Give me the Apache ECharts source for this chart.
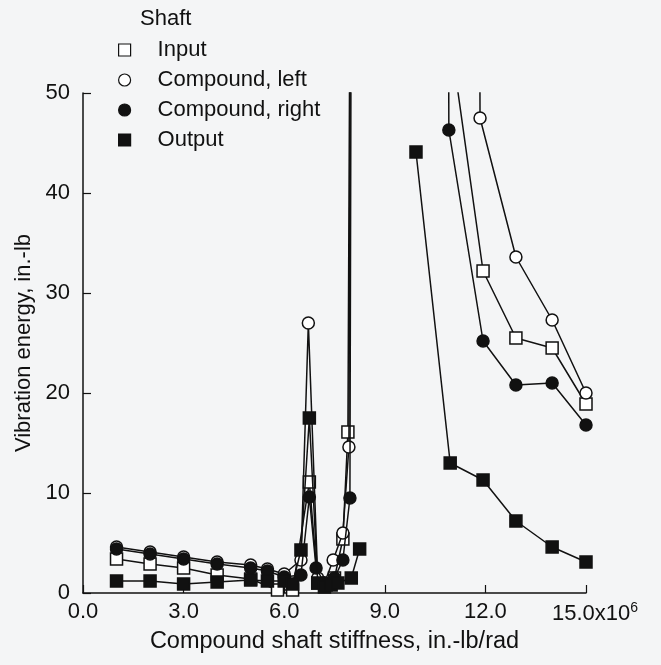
<!DOCTYPE html>
<html>
<head>
<meta charset="utf-8">
<script src="https://cdn.jsdelivr.net/npm/echarts@6/dist/echarts.min.js"></script>
<style>
html,body{margin:0;padding:0;background:#f4f5f6;}
#chart{width:661px;height:665px;}
</style>
</head>
<body>
<div id="chart"></div>
<script>
// Compound shaft stiffness (x10^6 in.-lb/rad) and vibration energy (in.-lb)
var seriesNames = ['Input', 'Compound, left', 'Compound, right', 'Output'];
var xTicks = [0, 3, 6, 9, 12, 15];
var yTicks = [0, 10, 20, 30, 40, 50];

var inputX = [1.0, 2.0, 3.0, 4.0, 5.0, 5.8, 6.25, 6.75, 7.0, 7.25, 7.5, 7.75, 7.9, 8.05, 11.93, 12.91, 13.99, 15.0];
var inputY = [3.4, 2.9, 2.5, 1.8, 1.4, 0.3, 0.3, 11.1, 1.0, 0.8, 1.5, 5.4, 16.1, 125, 32.2, 25.5, 24.5, 18.9];

var leftX = [1.0, 2.0, 3.0, 4.0, 5.0, 5.5, 6.0, 6.5, 6.72, 7.0, 7.2, 7.46, 7.75, 7.93, 9.9, 11.84, 12.91, 13.99, 15.0];
var leftY = [4.6, 4.1, 3.6, 3.1, 2.8, 2.4, 1.9, 3.3, 27.0, 1.5, 1.0, 3.3, 6.0, 14.6, 2000, 47.5, 33.6, 27.3, 20.0];

var rightX = [1.0, 2.0, 3.0, 4.0, 5.0, 5.5, 6.0, 6.5, 6.75, 6.95, 7.2, 7.5, 7.75, 7.96, 9.4, 10.91, 11.93, 12.91, 13.99, 15.0];
var rightY = [4.4, 3.9, 3.4, 2.9, 2.5, 2.2, 1.6, 1.8, 9.6, 2.5, 1.0, 1.5, 3.3, 9.5, 2000, 46.3, 25.2, 20.8, 21.0, 16.8];

var outputX = [1.0, 2.0, 3.0, 4.0, 5.0, 5.5, 6.0, 6.25, 6.5, 6.75, 7.0, 7.2, 7.4, 7.6, 8.0, 8.25, 9.0, 9.93, 10.95, 11.93, 12.91, 13.99, 15.0];
var outputY = [1.2, 1.2, 0.9, 1.1, 1.3, 1.2, 1.2, 0.9, 4.3, 17.5, 1.0, 0.6, 0.8, 1.0, 1.5, 4.4, null, 44.1, 13.0, 11.3, 7.2, 4.6, 3.1];

function pairs(xs, ys) {
  return xs.map(function (x, i) { return [x, ys[i] === null ? '-' : ys[i]]; });
}

var FONT = 'Liberation Sans, Arial, sans-serif';
var INK = '#111';
var FS = 22;

var styles = [
  {symbol: 'rect', size: 12, fill: '#ffffff'},
  {symbol: 'circle', size: 12, fill: '#ffffff'},
  {symbol: 'circle', size: 12, fill: '#111111'},
  {symbol: 'rect', size: 12, fill: '#111111'}
];
var datas = [pairs(inputX, inputY), pairs(leftX, leftY), pairs(rightX, rightY), pairs(outputX, outputY)];

var chart = echarts.init(document.getElementById('chart'), null, {renderer: 'canvas'});

var series = seriesNames.map(function (name, i) {
  var st = styles[i];
  return {
    name: name,
    type: 'line',
    data: datas[i],
    symbol: st.symbol,
    symbolSize: st.size,
    showAllSymbol: true,
    clip: true,
    connectNulls: false,
    lineStyle: {color: INK, width: 1.5},
    itemStyle: {color: st.fill, borderColor: INK, borderWidth: 1.5, opacity: 1},
    emphasis: {disabled: true},
    animation: false,
    z: 2 + i
  };
});

var option = {
  backgroundColor: '#f4f5f6',
  animation: false,
  title: {
    text: 'Shaft',
    left: 135,
    top: 3,
    textStyle: {fontFamily: FONT, fontSize: FS, fontWeight: 'normal', color: INK}
  },
  legend: {
    orient: 'vertical',
    left: 113,
    top: 34,
    itemWidth: 12,
    itemHeight: 12,
    itemGap: 8,
    itemSymbolKeepAspect: true,
    textStyle: {fontFamily: FONT, fontSize: FS, color: INK, padding: [0, 0, 0, 22]},
    data: seriesNames.map(function (n, i) {
      return {
        name: n,
        icon: styles[i].symbol,
        itemStyle: {color: styles[i].fill, borderColor: INK, borderWidth: 1.2}
      };
    }),
    selectedMode: false
  },
  grid: {left: 83, right: 75, top: 93, bottom: 72, containLabel: false},
  xAxis: {
    type: 'value',
    min: xTicks[0],
    max: xTicks[xTicks.length - 1],
    interval: xTicks[1] - xTicks[0],
    name: 'Compound shaft stiffness, in.-lb/rad',
    nameLocation: 'middle',
    nameGap: 35,
    nameTextStyle: {fontFamily: FONT, fontSize: 23.5, color: INK},
    axisLine: {show: true, lineStyle: {color: INK, width: 1.5}},
    axisTick: {show: true, inside: true, length: 8, lineStyle: {color: INK, width: 1.2}},
    splitLine: {show: false},
    axisLabel: {
      margin: 8,
      fontFamily: FONT,
      fontSize: FS,
      color: INK,
      formatter: function (v) {
        if (v === xTicks[xTicks.length - 1]) {
          return '{a|' + v.toFixed(1) + '}{b|x10}{s|6}';
        }
        return v.toFixed(1);
      },
      rich: {
        a: {fontFamily: FONT, fontSize: FS, color: INK, padding: [0, 0, 0, 18]},
        b: {fontFamily: FONT, fontSize: FS, color: INK},
        s: {fontFamily: FONT, fontSize: 14, color: INK, verticalAlign: 'top', padding: [0, 0, 12, 0]}
      }
    }
  },
  yAxis: {
    type: 'value',
    min: yTicks[0],
    max: yTicks[yTicks.length - 1],
    interval: yTicks[1] - yTicks[0],
    name: 'Vibration energy, in.-lb',
    nameLocation: 'middle',
    nameGap: 45,
    nameTextStyle: {fontFamily: FONT, fontSize: FS, color: INK},
    axisLine: {show: true, lineStyle: {color: INK, width: 1.5}},
    axisTick: {show: true, inside: true, length: 8, lineStyle: {color: INK, width: 1.2}},
    splitLine: {show: false},
    axisLabel: {margin: 13, fontFamily: FONT, fontSize: FS, color: INK}
  },
  series: series
};

chart.setOption(option);
</script>
</body>
</html>
